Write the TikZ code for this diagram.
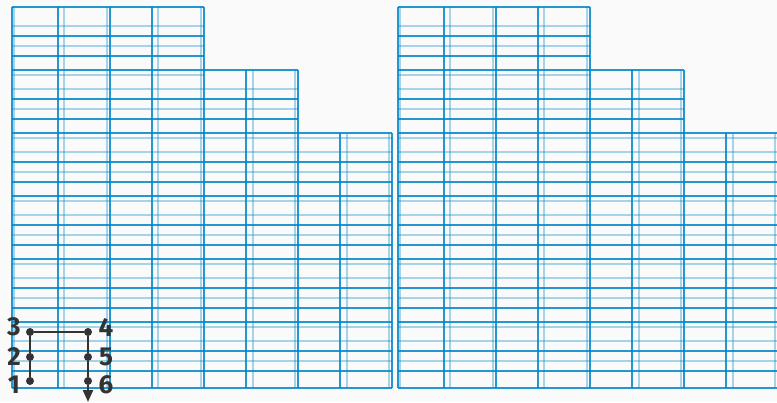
\documentclass[tikz,border=0pt]{standalone}
\usepackage{fontspec}
\setsansfont{Fira Sans}
\usetikzlibrary{arrows.meta}
\definecolor{bg}{RGB}{250,250,250}
\definecolor{gridblue}{RGB}{0,134,201}
\definecolor{ink}{RGB}{51,51,51}
\begin{document}
\begin{tikzpicture}[x=1pt,y=-1pt,
  darkline/.style={draw=gridblue,line width=1.1pt,opacity=0.85},
  lightline/.style={draw=gridblue,line width=2pt,opacity=0.33},
  dot/.style={circle,fill=ink,inner sep=0pt,minimum size=8pt},
  trail/.style={draw=ink,line width=2.2pt},
  lbl/.style={font=\sffamily\bfseries\fontsize{26}{26}\selectfont,text=ink,inner sep=0pt}]
\fill[bg] (0,0) rectangle (777,402);
\useasboundingbox (0,0) rectangle (777,402);
\begin{scope}
\clip (0,0) rectangle (777,402);
\foreach \ox in {0,386} {
  % vertical lines
  \foreach \x/\t in {12/7,58/7,110/7,152/7,204/7,246/70,298/70,340/133,392/133}
    \draw[darkline] (\ox+\x,\t) -- (\ox+\x,388);
  \foreach \x/\t in {14/7,64/7,107/7,158/7,201/7,253/70,295/70,347/133,389/133}
    \draw[lightline] (\ox+\x,\t) -- (\ox+\x,388);
  % horizontal lines
  \foreach \k/\xe in {0/204,1/298,2/392,3/392,4/392,5/392} {
    \pgfmathsetmacro\T{7+63*\k}
    \draw[darkline] (\ox+12,\T) -- (\ox+\xe,\T);
    \draw[darkline] (\ox+12,\T+29) -- (\ox+\xe,\T+29);
    \draw[darkline] (\ox+12,\T+49) -- (\ox+\xe,\T+49);
    \draw[lightline] (\ox+12,\T+19) -- (\ox+\xe,\T+19);
    \draw[lightline] (\ox+12,\T+39) -- (\ox+\xe,\T+39);
  }
  \foreach \k/\xe in {1/204,2/392,3/392,4/392,5/392} {
    \pgfmathsetmacro\T{7+63*\k}
    \draw[lightline] (\ox+12,\T+5) -- (\ox+\xe,\T+5);
  }
  \draw[darkline] (\ox+12,388) -- (\ox+392,388);
}
\end{scope}
% ordering annotation
\node[dot] (p1) at (30,381) {};
\node[dot] (p2) at (30,357) {};
\node[dot] (p3) at (30,332) {};
\node[dot] (p4) at (88,332) {};
\node[dot] (p5) at (88,357) {};
\node[dot] (p6) at (88,381) {};
\coordinate (pend) at (88,402);
\draw[trail] (p1) -- (p2) -- (p3) -- (p4) -- (p5) -- (p6);
\draw[trail,-{Triangle[length=12pt,width=10pt]}] (p6) -- (pend);
\node[lbl] (l1) at (14,385) {1};
\node[lbl] (l2) at (14,357) {2};
\node[lbl] (l3) at (14,327) {3};
\node[lbl] (l4) at (106,327) {4};
\node[lbl] (l5) at (106,357) {5};
\node[lbl] (l6) at (106,385) {6};
\end{tikzpicture}
\end{document}
